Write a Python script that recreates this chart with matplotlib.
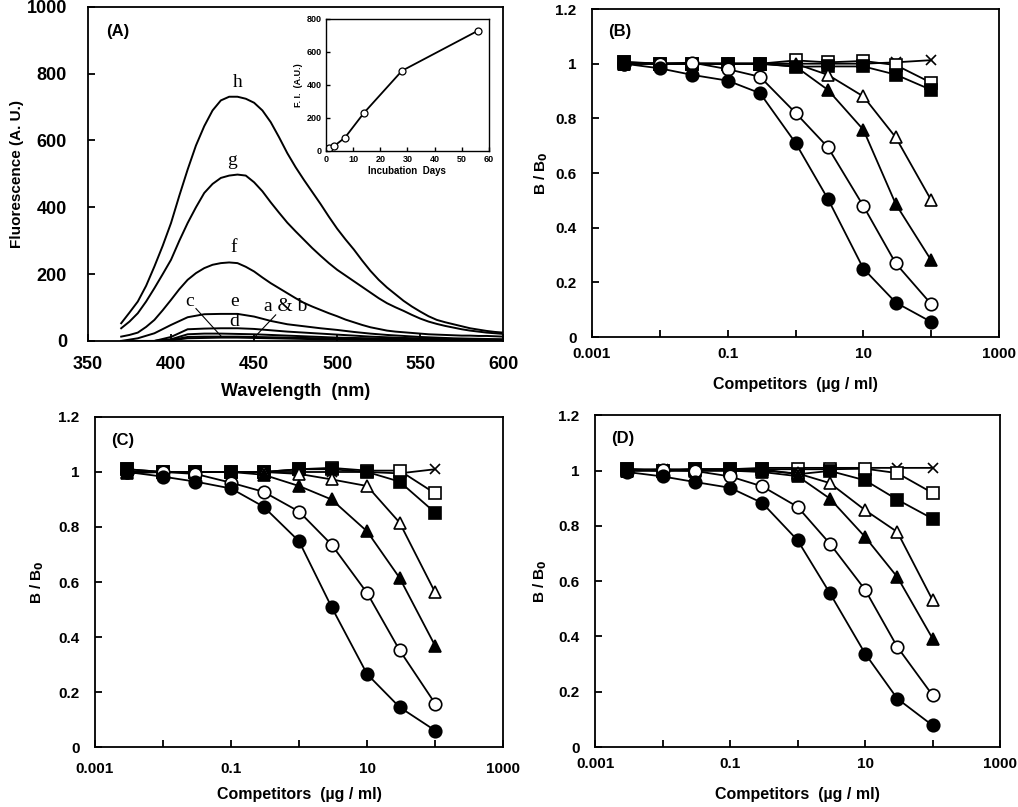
import matplotlib
matplotlib.use("Agg")
import matplotlib.pyplot as plt
from matplotlib.ticker import FixedLocator

plt.rcParams['font.family'] = ['Liberation Sans', 'DejaVu Sans']
plt.rcParams['font.weight'] = 'bold'

# ---- panel A: emission spectra ----
wl_fine = list(range(370, 601, 5))
spec_h = [53, 85, 118, 165, 223, 285, 353, 435, 513, 585, 643, 690, 720, 731,
          731, 725, 713, 690, 655, 610, 562, 520, 482, 446, 410, 372, 336,
          304, 274, 241, 210, 183, 160, 140, 120, 103, 88, 74, 63, 56, 50,
          44, 38, 34, 30, 27, 25]
spec_g = [38, 58, 83, 118, 158, 200, 243, 300, 353, 400, 443, 470, 488, 495,
          498, 495, 475, 448, 415, 384, 354, 328, 303, 278, 255, 233, 213,
          196, 179, 162, 145, 128, 113, 101, 90, 78, 67, 58, 51, 45, 40,
          35, 31, 28, 25, 23, 21]
spec_f = [13, 18, 25, 42, 63, 92, 123, 155, 183, 203, 218, 228, 233, 235,
          233, 222, 208, 190, 173, 158, 143, 128, 114, 103, 93, 83, 74,
          64, 56, 48, 41, 36, 31, 28, 26, 24, 22, 20, 19, 18, 17, 16, 16,
          15, 15, 14, 13]
wl_coarse = [370, 380, 390, 400, 410, 420, 430, 440, 450, 460, 470, 480,
             490, 500, 510, 520, 530, 540, 550, 560, 570, 580, 590, 600]
spec_e = [0, 8, 23, 48, 71, 80, 81, 81, 73, 60, 50, 44,
          38, 33, 27, 22, 18, 15, 12, 10, 8, 7, 6, 5]
spec_d = [0, 0, 0, 12, 35, 37, 38, 38, 36, 32, 28, 25,
          22, 19, 16, 13, 11, 9, 8, 7, 6, 5, 4, 4]
spec_c = [0, 0, 0, 5, 20, 22, 22, 21, 20, 18, 16, 14,
          12, 10, 9, 8, 7, 6, 5, 4, 4, 3, 3, 3]
spec_b = [0, 0, 0, 3, 12, 13, 13, 13, 12, 11, 10, 9,
          8, 7, 6, 5, 5, 4, 4, 3, 3, 3, 2, 2]
spec_a = [0, 0, 0, 2, 8, 9, 10, 10, 9, 8, 7, 6,
          5, 5, 4, 4, 3, 3, 3, 2, 2, 2, 2, 2]

# inset: fluorescence vs incubation days
days = [0, 1, 3, 7, 14, 28, 56]
fi = [0, 20, 30, 81, 231, 486, 729]

# ---- panels B-D: competition curves ----
competitors = [0.003, 0.01, 0.03, 0.1, 0.3, 1, 3, 10, 30, 100]

b_fc = [1.00, 0.983, 0.959, 0.938, 0.892, 0.71, 0.505, 0.25, 0.126, 0.055]
b_oc = [1.00, 1.00, 1.004, 0.98, 0.952, 0.82, 0.694, 0.479, 0.269, 0.12]
b_ft = [1.00, 1.00, 1.00, 1.00, 1.00, 0.99, 0.904, 0.758, 0.486, 0.28]
b_ot = [1.00, 1.00, 1.00, 1.00, 1.00, 1.00, 0.959, 0.88, 0.73, 0.50]
b_fs = [1.007, 1.00, 1.00, 1.00, 1.00, 0.989, 0.99, 0.99, 0.96, 0.904]
b_os = [1.005, 1.00, 1.00, 1.00, 1.00, 1.012, 1.005, 1.01, 0.995, 0.93]
b_x = [1.00, 1.00, 1.00, 1.00, 1.00, 1.00, 1.00, 1.00, 1.005, 1.013]

c_fc = [1.00, 0.983, 0.965, 0.94, 0.874, 0.748, 0.509, 0.265, 0.145, 0.06]
c_oc = [1.00, 1.00, 0.993, 0.961, 0.928, 0.856, 0.736, 0.56, 0.352, 0.158]
c_ft = [0.995, 1.00, 1.00, 1.00, 0.99, 0.949, 0.90, 0.784, 0.615, 0.368]
c_ot = [1.00, 1.00, 1.00, 1.00, 1.00, 0.993, 0.973, 0.949, 0.816, 0.562]
c_fs = [1.01, 1.00, 1.00, 1.00, 1.00, 1.01, 1.01, 1.00, 0.965, 0.852]
c_os = [1.01, 1.00, 1.00, 1.00, 1.00, 1.01, 1.015, 1.005, 1.005, 0.922]
c_x = [1.00, 1.00, 1.00, 1.00, 1.00, 1.00, 1.00, 1.00, 0.995, 1.01]

d_fc = [0.995, 0.979, 0.959, 0.938, 0.883, 0.748, 0.557, 0.338, 0.175, 0.078]
d_oc = [1.00, 1.004, 0.999, 0.979, 0.943, 0.869, 0.736, 0.569, 0.362, 0.187]
d_ft = [1.00, 1.00, 1.00, 1.00, 0.995, 0.98, 0.899, 0.76, 0.615, 0.392]
d_ot = [1.00, 1.00, 1.00, 1.00, 1.00, 0.99, 0.955, 0.857, 0.778, 0.531]
d_fs = [1.005, 1.00, 1.005, 1.005, 1.005, 0.987, 0.999, 0.965, 0.895, 0.826]
d_os = [1.005, 1.00, 1.005, 1.005, 1.005, 1.005, 1.005, 1.007, 0.991, 0.919]
d_x = [1.005, 1.005, 1.005, 1.005, 1.01, 1.01, 1.01, 1.01, 1.01, 1.01]

x_ticks = [0.001, 0.01, 0.1, 1, 10, 100, 1000]
x_ticklabels = ['0.001', '', '0.1', '', '10', '', '1000']
y_ticks = [0, 0.2, 0.4, 0.6, 0.8, 1.0, 1.2]
y_ticklabels = ['0', '0.2', '0.4', '0.6', '0.8', '1', '1.2']

fig = plt.figure(figsize=(10.18, 8.07), dpi=100)


def style_axes(ax, pad_x=7, pad_y=11, size=11):
    for s in ax.spines.values():
        s.set_linewidth(1.3)
    ax.tick_params(direction='in', length=5, width=1.3, labelsize=size,
                   top=False, right=False)
    ax.tick_params(axis='x', pad=pad_x)
    ax.tick_params(axis='y', pad=pad_y)
    for lab in ax.get_xticklabels() + ax.get_yticklabels():
        lab.set_fontweight('bold')


# panel A
axA = fig.add_axes([0.0864, 0.5775, 0.408, 0.414])
for spec in [spec_a, spec_b, spec_c, spec_d, spec_e]:
    axA.plot(wl_coarse, spec, color='black', lw=1.4)
for spec in [spec_f, spec_g, spec_h]:
    axA.plot(wl_fine, spec, color='black', lw=1.4)
axA.set_xlim(350, 600)
axA.set_ylim(0, 1000)
axA.set_xticks([350, 400, 450, 500, 550, 600])
axA.set_yticks([0, 200, 400, 600, 800, 1000])
style_axes(axA, pad_x=11, pad_y=15, size=13)
axA.set_xlabel('Wavelength  (nm)', fontsize=13, fontweight='bold', labelpad=7)
axA.set_ylabel('Fluorescence (A. U.)', fontsize=11, fontweight='bold', labelpad=2)
axA.text(0.043, 0.925, '(A)', transform=axA.transAxes, fontsize=12,
         fontweight='bold', va='center')

serif = dict(family='Liberation Serif', fontsize=14, fontweight='normal',
             ha='center', va='center')
axA.text(440, 775, 'h', **serif)
axA.text(437, 540, 'g', **serif)
axA.text(438, 280, 'f', **serif)
axA.text(438, 117, 'e', **serif)
axA.text(438, 58, 'd', **serif)
axA.text(411, 118, 'c', **serif)
axA.text(469, 103, 'a & b', **serif)
axA.plot([415, 430], [97, 15], color='black', lw=0.8)
axA.plot([463, 451], [78, 15], color='black', lw=0.8)

# inset
axI = fig.add_axes([0.3202, 0.8129, 0.160, 0.1636])
axI.plot(days, fi, color='black', lw=1.3, marker='o', ms=5,
         mfc='white', mec='black', mew=0.9)
axI.set_xlim(0, 60)
axI.set_ylim(0, 800)
axI.set_xticks([0, 10, 20, 30, 40, 50, 60])
axI.set_yticks([0, 200, 400, 600, 800])
for s in axI.spines.values():
    s.set_linewidth(1.0)
axI.tick_params(direction='in', length=3, width=1.0, labelsize=6.5, pad=3)
for lab in axI.get_xticklabels() + axI.get_yticklabels():
    lab.set_fontweight('bold')
axI.set_xlabel('Incubation  Days', fontsize=7, fontweight='bold', labelpad=1)
axI.set_ylabel('F. I.  (A.U.)', fontsize=6.5, fontweight='bold', labelpad=3)

# panels B-D (drawing order: bottom to top)
series_style = [
    ('x', dict(marker='x', mfc='black', ms=7)),
    ('os', dict(marker='s', mfc='white', ms=8)),
    ('fs', dict(marker='s', mfc='black', ms=8)),
    ('ot', dict(marker='^', mfc='white', ms=9)),
    ('ft', dict(marker='^', mfc='black', ms=9)),
    ('oc', dict(marker='o', mfc='white', ms=9)),
    ('fc', dict(marker='o', mfc='black', ms=9)),
]

panels = [
    ('(B)', [0.5815, 0.5824, 0.40, 0.4064], 4, 12,
     dict(fc=b_fc, oc=b_oc, ft=b_ft, ot=b_ot, fs=b_fs, os=b_os, x=b_x)),
    ('(C)', [0.0933, 0.0743, 0.401, 0.409], 9, 8,
     dict(fc=c_fc, oc=c_oc, ft=c_ft, ot=c_ot, fs=c_fs, os=c_os, x=c_x)),
    ('(D)', [0.5845, 0.0743, 0.398, 0.411], 7, 12,
     dict(fc=d_fc, oc=d_oc, ft=d_ft, ot=d_ot, fs=d_fs, os=d_os, x=d_x)),
]

for label, rect, ypad, xpad, data in panels:
    ax = fig.add_axes(rect)
    ax.set_xscale('log')
    for key, st in series_style:
        ax.plot(competitors, data[key], color='black', lw=1.3,
                mec='black', mew=1.2, **st)
    ax.set_xlim(0.001, 1000)
    ax.set_ylim(0, 1.2)
    ax.xaxis.set_major_locator(FixedLocator(x_ticks))
    ax.xaxis.set_minor_locator(FixedLocator([]))
    ax.set_xticklabels(x_ticklabels)
    ax.set_yticks(y_ticks)
    ax.set_yticklabels(y_ticklabels)
    style_axes(ax, pad_x=7 if label != '(C)' else 11, pad_y=11, size=11)
    ax.set_xlabel('Competitors  (\u00b5g / ml)', fontsize=11.5,
                  fontweight='bold', labelpad=xpad)
    ax.set_ylabel('B / B$_\\mathbf{0}$', fontsize=11, fontweight='bold',
                  labelpad=ypad)
    ax.text(0.04, 0.93, label, transform=ax.transAxes, fontsize=12,
            fontweight='bold', va='center')

fig.savefig('out.png', dpi=100)
